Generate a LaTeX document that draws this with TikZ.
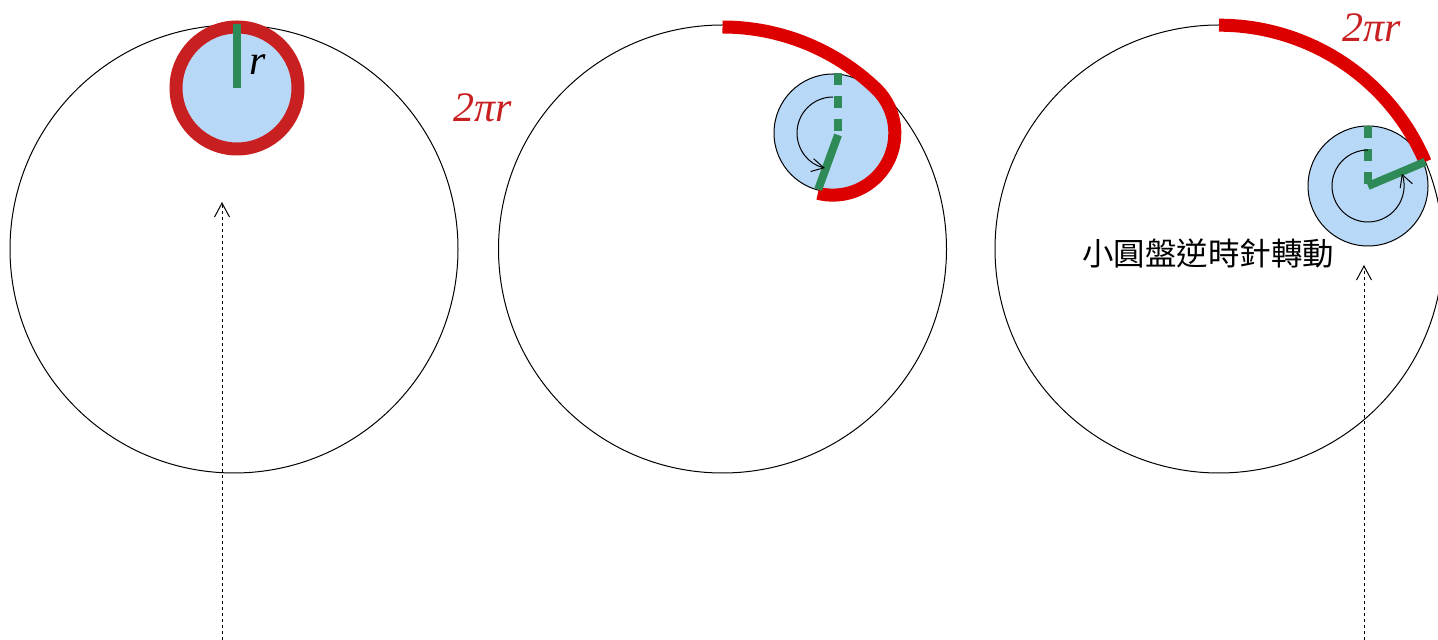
\documentclass[tikz,border=0pt]{standalone}
\usepackage{fontspec}
\setmainfont{Liberation Serif}
\newfontfamily\cjkfont{Noto Sans CJK TC}
\usetikzlibrary{arrows.meta,calc}
\definecolor{DiscBlue}{HTML}{B8D8F8}
\definecolor{RingRed}{HTML}{C82020}
\definecolor{ArcRed}{HTML}{DD0000}
\definecolor{RadGreen}{HTML}{2E8B57}
\begin{document}
\begin{tikzpicture}[x=1pt,y=1pt,
    big/.style={draw=black,line width=1pt},
    disc/.style={draw=black,line width=1pt,fill=DiscBlue},
    band/.style={line width=13pt},
    rad/.style={draw=RadGreen,line width=8pt},
    raddash/.style={rad,dash pattern=on 12pt off 11pt},
    spin/.style={line width=1pt,-{Straight Barb[length=12pt,width=13pt]}},
    guide/.style={line width=1pt,dash pattern=on 3pt off 3pt,
      -{Straight Barb[length=14pt,width=15pt]}},
    lbl/.style={font=\fontsize{42}{48}\selectfont\itshape}]
  \clip (0,0) rectangle (1438,640);
  \coordinate (b1) at (234,391); \coordinate (s1) at (237,552);
  \coordinate (b2) at (722.5,391); \coordinate (s2) at (833,507);
  \coordinate (h2) at (838,505);
  \coordinate (b3) at (1219,391); \coordinate (s3) at (1368,454);
  \coordinate (g1s) at (222,0); \coordinate (g1e) at (222,438);
  \coordinate (g3s) at (1364,0); \coordinate (g3e) at (1364,375);

  \draw[big] (b1) circle[radius=224];
  \draw[big] (b2) circle[radius=224];
  \draw[big] (b3) circle[radius=224];

  \fill[DiscBlue] (s1) circle[radius=58];
  \draw[band,RingRed] (s1) circle[radius=61];
  \draw[rad] (s1) -- ++(90:64);
  \node[lbl] (rlab) at (258,575) {r};

  \draw[disc] (s2) circle[radius=59];
  \draw[band,ArcRed] ($(b2)+(90:222)$) arc[start angle=90,end angle=46.4,radius=222]
    arc[start angle=46.4,end angle=-104,radius=62];
  \draw[raddash] ($(h2)+(90:62)$) -- (h2);
  \draw[rad] (h2) -- ++(250:58);
  \draw[spin] ($(s2)+(90:36)$) arc[start angle=90,end angle=257,radius=36];
  \node[lbl,text=RingRed] (arc2) at (483,532) {2πr};

  \draw[disc] (s3) circle[radius=60];
  \draw[band,ArcRed] ($(b3)+(90:223.8)$) arc[start angle=90,end angle=22.9,radius=223.8];
  \draw[raddash] ($(s3)+(90:60)$) -- (s3);
  \draw[rad] (s3) -- ++(22.9:62);
  \draw[spin] ($(s3)+(90:36)$) arc[start angle=90,end angle=380,radius=36];
  \node[lbl,text=RingRed] (arc3) at (1372,612) {2πr};
  \node[font=\cjkfont\fontsize{31.5}{36}\selectfont] (turn) at (1208,386) {小圓盤逆時針轉動};

  \draw[guide] (g1s) -- (g1e);
  \draw[guide] (g3s) -- (g3e);
\end{tikzpicture}
\end{document}
